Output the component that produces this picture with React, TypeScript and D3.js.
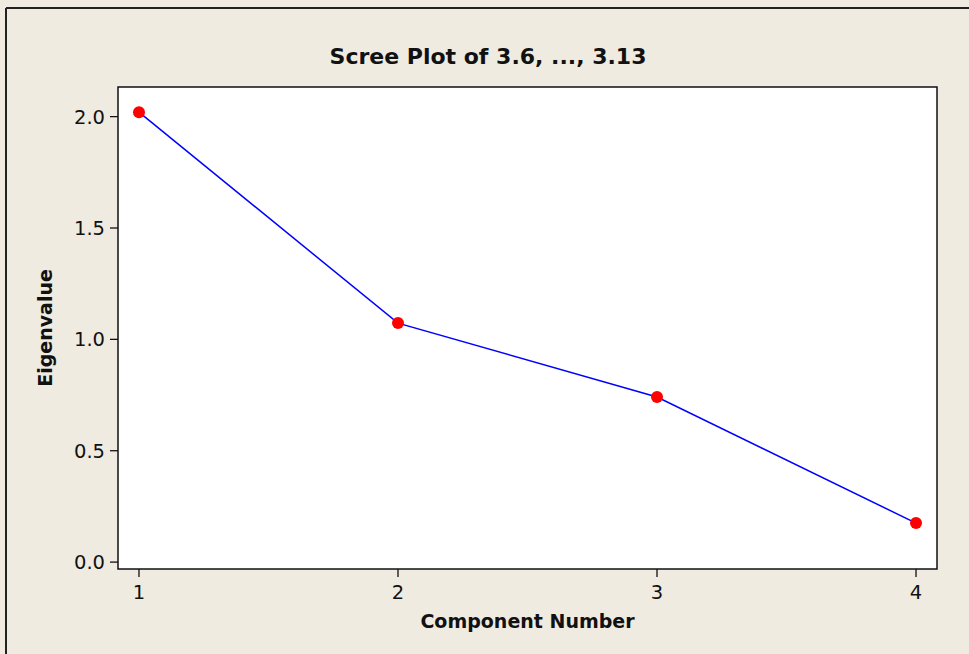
import React from 'react';
import * as d3 from 'd3';

const components = [1, 2, 3, 4];
const eigenvalues = [2.02, 1.073, 0.741, 0.175];
const yTicks = [0.0, 0.5, 1.0, 1.5, 2.0];

const W = 969;
const H = 654;
const margin = { top: 87, right: 32, bottom: 85, left: 118 };

const App = () => {
    const x = d3.scaleLinear()
        .domain([0.919, 4.081])
        .range([margin.left, W - margin.right]);

    const y = d3.scaleLinear()
        .domain([-0.031, 2.133])
        .range([H - margin.bottom, margin.top]);

    const line = d3.line<number>()
        .x((d, i) => x(components[i]))
        .y(d => y(d));

    const font = 'Tahoma, Verdana, "DejaVu Sans", sans-serif';
    const bottom = H - margin.bottom;

    return (
        <svg width={W} height={H} style={{ position: 'absolute', left: 0, top: 0 }}>
            <rect x={0} y={0} width={W} height={H} fill="#EFEBE1" />
            <line x1={6} y1={8} x2={W} y2={8} stroke="#222" strokeWidth={2} />
            <line x1={6} y1={8} x2={6} y2={H} stroke="#222" strokeWidth={2} />

            <text x={488} y={64} textAnchor="middle" fontFamily={font} fontWeight="bold" fontSize={22} fill="#111">
                Scree Plot of 3.6, ..., 3.13
            </text>

            <rect x={margin.left} y={margin.top} width={W - margin.right - margin.left} height={bottom - margin.top}
                fill="#fff" stroke="#111" strokeWidth={1.5} />

            {yTicks.map(t => (
                <g key={t}>
                    <line x1={margin.left - 8} x2={margin.left} y1={y(t)} y2={y(t)} stroke="#111" strokeWidth={1.3} />
                    <text x={margin.left - 13} y={y(t)} dy="0.36em" textAnchor="end" fontFamily={font} fontSize={19.5} fill="#111">
                        {t.toFixed(1)}
                    </text>
                </g>
            ))}

            {components.map(c => (
                <g key={c}>
                    <line x1={x(c)} x2={x(c)} y1={bottom} y2={bottom + 8} stroke="#111" strokeWidth={1.3} />
                    <text x={x(c)} y={bottom + 30} textAnchor="middle" fontFamily={font} fontSize={19.5} fill="#111">
                        {c}
                    </text>
                </g>
            ))}

            <text x={(margin.left + W - margin.right) / 2} y={628} textAnchor="middle" fontFamily={font} fontWeight="bold" fontSize={19} fill="#111">
                Component Number
            </text>
            <text transform={`translate(52,${(margin.top + bottom) / 2}) rotate(-90)`} textAnchor="middle" fontFamily={font} fontWeight="bold" fontSize={19} fill="#111">
                Eigenvalue
            </text>

            <path d={line(eigenvalues) || ''} fill="none" stroke="#0000FF" strokeWidth={1.5} />
            {eigenvalues.map((v, i) => (
                <circle key={i} cx={x(components[i])} cy={y(v)} r={6} fill="#FF0000" />
            ))}
        </svg>
    );
};

export default App;
